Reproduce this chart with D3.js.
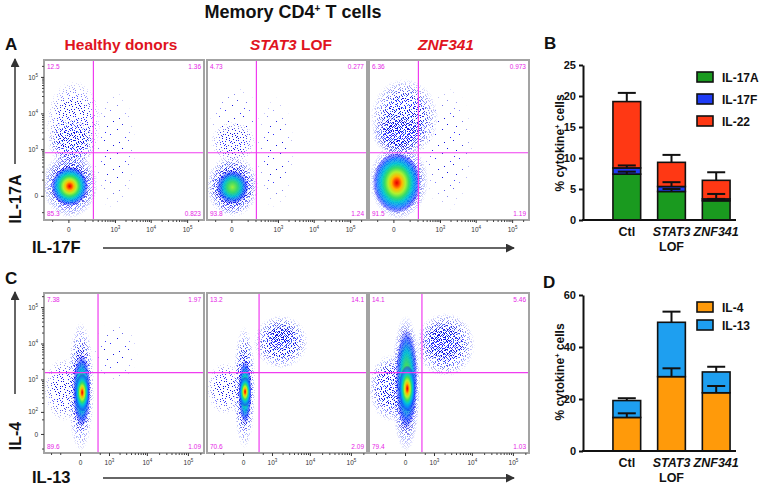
<!DOCTYPE html>
<html>
<head>
<meta charset="utf-8">
<script src="https://cdn.jsdelivr.net/npm/d3@7/dist/d3.min.js"></script>
<style>
  body { margin: 0; background: #fff; }
  svg { font-family: "Liberation Sans", Arial, sans-serif; display: block; }
</style>
</head>
<body>
<div id="fig"></div>
<script>
const W = 765, H = 487;
const S = 160; // flow plot box
const plotLeft = [44, 207, 369];
const rowTop = { A: 60, C: 293 };

// ---- flow panels
const groups = ["Healthy donors", "STAT3 LOF", "ZNF341"];
// quadrant % : UL, UR, LL, LR
const quadA = [[12.5, 1.36, 85.3, 0.823], [4.73, 0.277, 93.8, 1.24], [6.36, 0.973, 91.5, 1.19]];
const quadC = [[7.38, 1.97, 89.6, 1.09], [13.2, 14.1, 70.6, 2.09], [14.1, 5.46, 79.4, 1.03]];
// gate positions [x, y] in channel values
const gateA = [[215, 790], [215, 790], [215, 790]];
const gateC = [[430, 1560], [360, 1560], [390, 1560]];
const majorTicksA = [0, 1e3, 1e4, 1e5];
const majorTicksCy = [0, 1e2, 1e3, 1e4, 1e5];
const minorTicksA = [-100, 100, 200, 300, 400, 500, 600, 700, 800, 900, 2e3, 3e3, 4e3, 5e3, 6e3, 7e3, 8e3, 9e3, 2e4, 3e4, 4e4, 5e4, 6e4, 7e4, 8e4, 9e4, 2e5];
const minorTicksCx = [-1000, -500, 500, 2e3, 3e3, 4e3, 5e3, 6e3, 7e3, 8e3, 9e3, 2e4, 3e4, 4e4, 5e4, 6e4, 7e4, 8e4, 9e4, 2e5];
const minorTicksCy = [-50, 50, 200, 300, 400, 500, 600, 700, 800, 900, 2e3, 3e3, 4e3, 5e3, 6e3, 7e3, 8e3, 9e3, 2e4, 3e4, 4e4, 5e4, 6e4, 7e4, 8e4, 9e4, 2e5];
// cell populations: [xLo, xHi, yLo, yHi, level]  level 0-3 dot density, 4 green core, 5 red core
const popsA = [
  [[200, 4000, -100, 50000, 0], [-170, 380, 350, 80000, 1], [-150, 260, 300, 8000, 2],
   [-230, 300, -170, 900, 3], [-110, 140, -50, 300, 5]],
  [[200, 3000, -80, 30000, 0], [-170, 300, 400, 60000, 0], [-150, 200, 400, 6000, 1],
   [-220, 260, -160, 700, 2], [-170, 200, -120, 450, 3], [-90, 110, -40, 230, 4]],
  [[250, 9000, -100, 60000, 0], [-180, 900, 600, 90000, 2], [-160, 400, 700, 10000, 3],
   [-200, 450, -190, 1600, 3], [-150, 260, -110, 800, 5]]
];
const popsC = [
  [[-1600, 50, 40, 4000, 1], [250, 6000, 800, 40000, 0], [-250, 300, -70, 40000, 2],
   [-160, 220, 0, 10000, 3], [-120, 200, 20, 5000, 4], [-80, 170, 100, 1500, 5]],
  [[-1600, 0, 80, 3000, 1], [200, 9000, 2000, 60000, 2], [600, 5000, 6000, 35000, 3],
   [-180, 250, -50, 30000, 2], [-110, 180, 10, 8000, 3], [-70, 150, 30, 3500, 4], [-60, 140, 150, 1200, 5]],
  [[-1600, 100, 40, 5000, 2], [200, 12000, 1200, 70000, 2], [400, 6000, 3000, 40000, 3],
   [-280, 340, -70, 60000, 3], [-170, 250, 10, 25000, 4], [-100, 200, 100, 2500, 5]]
];

// ---- bar panels
const barCats = ["Ctl", "STAT3", "ZNF341"];
const il17a = [7.4, 4.6, 3.1], il17f = [1.0, 0.8, 0.3], il22 = [10.7, 3.9, 3.0];
const il17aErr = [0.4, 0.4, 0.3], il17fErr = [0.4, 0.7, 0.8], il22Err = [1.4, 1.2, 1.3];
const il4 = [12.9, 28.6, 22.4], il13 = [6.5, 20.9, 8.0];
const il4Err = [1.6, 3.2, 2.6], il13Err = [0.9, 4.1, 2.0];
const yTicksB = [0, 5, 10, 15, 20, 25], yTicksD = [0, 20, 40, 60];

const svg = d3.select("#fig").append("svg").attr("width", W).attr("height", H);
const defs = svg.append("defs");

// dot textures: a low-discrepancy scatter inside one tile (texture only)
function halton(i, b) { let f = 1, r = 0; while (i > 0) { f /= b; r += f * (i % b); i = Math.floor(i / b); } return r; }
const tile = 24;
const dotCounts = [9, 70, 150, 250];
dotCounts.forEach((n, lv) => {
  const p = defs.append("pattern").attr("id", "dots" + lv).attr("patternUnits", "userSpaceOnUse")
    .attr("width", tile).attr("height", tile);
  p.selectAll("rect").data(d3.range(1, n + 1)).join("rect")
    .attr("x", i => Math.floor(halton(i + lv * 7, 2) * tile)).attr("y", i => Math.floor(halton(i + lv * 7, 3) * tile))
    .attr("width", 1).attr("height", 1)
    .attr("fill", i => (lv >= 2 && i % 5 === 0) ? "#3a7dff" : (i % 3 === 0 ? "#2a2aff" : "#1010e0"));
});
const fadeGrad = defs.append("radialGradient").attr("id", "fadeGrad");
fadeGrad.append("stop").attr("offset", 0).attr("stop-color", "#fff");
fadeGrad.append("stop").attr("offset", 0.5).attr("stop-color", "#fff");
fadeGrad.append("stop").attr("offset", 1).attr("stop-color", "#000");
defs.append("mask").attr("id", "fade").attr("maskContentUnits", "objectBoundingBox")
  .append("rect").attr("width", 1).attr("height", 1).attr("fill", "url(#fadeGrad)");

const coreStops = {
  4: [[0, "#9af03a", 1], [0.3, "#3ad86a", 1], [0.55, "#00bcd8", 0.95], [0.8, "#1a48ff", 0.7], [1, "#0000ff", 0]],
  5: [[0, "#e00000", 1], [0.1, "#ff3c00", 1], [0.22, "#ffb800", 1], [0.36, "#b0f22e", 1], [0.5, "#34dc6a", 1],
      [0.64, "#00c6d4", 0.95], [0.8, "#0a7cff", 0.8], [0.9, "#1a30ff", 0.55], [1, "#0000ff", 0]]
};
Object.entries(coreStops).forEach(([k, stops]) => {
  const gr = defs.append("radialGradient").attr("id", "core" + k);
  stops.forEach(s => gr.append("stop").attr("offset", s[0]).attr("stop-color", s[1]).attr("stop-opacity", s[2]));
});

defs.append("clipPath").attr("id", "plotclip").append("rect").attr("width", S).attr("height", S);
defs.append("marker").attr("id", "arrow").attr("viewBox", "0 0 10 10").attr("refX", 9).attr("refY", 5)
  .attr("markerWidth", 9).attr("markerHeight", 9).attr("markerUnits", "userSpaceOnUse").attr("orient", "auto")
  .append("path").attr("d", "M0,0L10,5L0,10Z").attr("fill", "#333");

function powLabel(sel, sup) {
  sel.each(function (d) {
    const t = d3.select(this).text(null);
    if (d === 0) { t.text("0"); return; }
    t.append("tspan").text("10");
    t.append("tspan").attr("dy", "-3").attr("font-size", sup).text(Math.round(Math.log10(d)));
  });
}

function flowRow(top, xs, ys, pops, quads, gates, xMinor, yTicks, yMinor) {
  groups.forEach((grp, i) => {
    const g = svg.append("g").attr("transform", `translate(${plotLeft[i]},${top})`);
    const body = g.append("g").attr("clip-path", "url(#plotclip)");
    body.selectAll("ellipse").data(pops[i]).join("ellipse")
      .attr("cx", d => (xs(d[0]) + xs(d[1])) / 2)
      .attr("cy", d => (ys(d[2]) + ys(d[3])) / 2)
      .attr("rx", d => Math.abs(xs(d[1]) - xs(d[0])) / 2)
      .attr("ry", d => Math.abs(ys(d[3]) - ys(d[2])) / 2)
      .attr("fill", d => d[4] <= 3 ? `url(#dots${d[4]})` : `url(#core${d[4]})`)
      .attr("mask", d => d[4] <= 3 ? "url(#fade)" : null);
    // gates
    body.append("line").attr("x1", xs(gates[i][0])).attr("x2", xs(gates[i][0])).attr("y1", 0).attr("y2", S)
      .attr("stroke", "#f03cf0").attr("stroke-width", 1.2);
    body.append("line").attr("y1", ys(gates[i][1])).attr("y2", ys(gates[i][1])).attr("x1", 0).attr("x2", S)
      .attr("stroke", "#f03cf0").attr("stroke-width", 1.2);
    // quadrant numbers
    const qpos = [[3, 9, "start"], [S - 3, 9, "end"], [3, S - 4, "start"], [S - 3, S - 4, "end"]];
    g.selectAll("text.q").data(quads[i]).join("text").attr("class", "q")
      .attr("x", (d, k) => qpos[k][0]).attr("y", (d, k) => qpos[k][1]).attr("text-anchor", (d, k) => qpos[k][2])
      .attr("font-size", 6.5).attr("fill", "#e626e6").text(d => d);
    g.append("rect").attr("width", S).attr("height", S).attr("fill", "none")
      .attr("stroke", "#a3a3a3").attr("stroke-width", 2);
    // x axis
    const xa = g.append("g").attr("transform", `translate(0,${S})`)
      .call(d3.axisBottom(xs).tickValues(majorTicksA).tickSize(3).tickPadding(4));
    xa.call(a => a.select(".domain").remove());
    xa.selectAll("line").attr("stroke", "#333");
    xa.selectAll("text").attr("font-size", 6.5).attr("fill", "#333").call(powLabel, 4.5);
    g.append("g").attr("transform", `translate(0,${S})`)
      .call(d3.axisBottom(xs).tickValues(xMinor).tickSize(2).tickFormat(""))
      .call(a => a.select(".domain").remove()).selectAll("line").attr("stroke", "#444");
    if (i === 0) {
      const ya = g.append("g").call(d3.axisLeft(ys).tickValues(yTicks).tickSize(3).tickPadding(3));
      ya.call(a => a.select(".domain").remove());
      ya.selectAll("line").attr("stroke", "#333");
      ya.selectAll("text").attr("font-size", 6.5).attr("fill", "#333").call(powLabel, 4.5);
      g.append("g").call(d3.axisLeft(ys).tickValues(yMinor).tickSize(2).tickFormat(""))
        .call(a => a.select(".domain").remove()).selectAll("line").attr("stroke", "#444");
    }
  });
}

const xA = d3.scaleSymlog().constant(56).domain([-205, 290000]).range([0, S]);
const yA = d3.scaleSymlog().constant(56).domain([-200, 290000]).range([S, 0]);
const xC = d3.scaleSymlog().constant(250).domain([-1600, 245000]).range([0, S]);
const yC = d3.scaleSymlog().constant(33).domain([-77, 244000]).range([S, 0]);

flowRow(rowTop.A, xA, yA, popsA, quadA, gateA, minorTicksA, majorTicksA, minorTicksA);
flowRow(rowTop.C, xC, yC, popsC, quadC, gateC, minorTicksCx, majorTicksCy, minorTicksCy);

// titles and labels
const title = svg.append("text").attr("x", 293).attr("y", 18).attr("text-anchor", "middle")
  .attr("font-size", 18).attr("font-weight", "bold").attr("fill", "#111");
title.append("tspan").text("Memory CD4");
title.append("tspan").attr("dy", -6).attr("font-size", 10).text("+");
title.append("tspan").attr("dy", 6).text(" T cells");

groups.forEach((grp, i) => {
  const t = svg.append("text").attr("x", plotLeft[i] + S / 2 - (i === 0 ? 3 : i === 1 ? -4 : 3)).attr("y", 50)
    .attr("text-anchor", "middle").attr("font-size", 15.5).attr("font-weight", "bold").attr("fill", "#e0141e");
  if (i === 0) t.text(grp);
  else if (i === 1) { t.append("tspan").attr("font-style", "italic").text("STAT3"); t.append("tspan").text(" LOF"); }
  else t.append("tspan").attr("font-style", "italic").text(grp);
});

const bold = (x, y, txt, size, anchor) => svg.append("text").attr("x", x).attr("y", y).attr("font-size", size)
  .attr("font-weight", "bold").attr("text-anchor", anchor || "start").attr("fill", "#111").text(txt);
bold(5, 50, "A", 17); bold(5, 284, "C", 17); bold(544, 49, "B", 17); bold(543, 288, "D", 17);

// arrows & axis names
[[15, 164, 15, 59], [103, 248, 514, 248], [15, 394, 15, 292], [103, 478, 514, 478]].forEach(a => {
  svg.append("line").attr("x1", a[0]).attr("y1", a[1]).attr("x2", a[2]).attr("y2", a[3])
    .attr("stroke", "#333").attr("stroke-width", 1.5).attr("marker-end", "url(#arrow)");
});
svg.append("text").attr("transform", "translate(21,199) rotate(-90)").attr("text-anchor", "middle")
  .attr("font-size", 16).attr("font-weight", "bold").attr("fill", "#111").text("IL-17A");
svg.append("text").attr("transform", "translate(21,436) rotate(-90)").attr("text-anchor", "middle")
  .attr("font-size", 16).attr("font-weight", "bold").attr("fill", "#111").text("IL-4");
bold(32, 253, "IL-17F", 16.5);
bold(32, 483, "IL-13", 16.5);

// ---- stacked bar charts
function stackedBars(opts) {
  const rows = barCats.map((c, i) => { const r = { cat: c }; opts.series.forEach(s => r[s.name] = s.values[i]); return r; });
  const layers = d3.stack().keys(opts.series.map(s => s.name))(rows);
  const x = d3.scaleBand().domain(barCats).range([604, 739]).paddingInner(0.38).paddingOuter(0.2);
  const y = d3.scaleLinear().domain([0, opts.max]).range([opts.bottom, opts.top]);
  const g = svg.append("g");
  layers.forEach((layer, li) => {
    g.selectAll(null).data(layer).join("rect")
      .attr("x", d => x(d.data.cat)).attr("width", x.bandwidth())
      .attr("y", d => y(d[1])).attr("height", d => y(d[0]) - y(d[1]))
      .attr("fill", opts.series[li].color).attr("stroke", "#111").attr("stroke-width", 1.6);
  });
  layers.forEach((layer, li) => {
    const errs = opts.series[li].errs;
    layer.forEach((d, i) => {
      const cx = x(d.data.cat) + x.bandwidth() / 2;
      g.append("line").attr("x1", cx).attr("x2", cx).attr("y1", y(d[1])).attr("y2", y(d[1] + errs[i]))
        .attr("stroke", "#111").attr("stroke-width", 2);
      g.append("line").attr("x1", cx - 9).attr("x2", cx + 9).attr("y1", y(d[1] + errs[i])).attr("y2", y(d[1] + errs[i]))
        .attr("stroke", "#111").attr("stroke-width", 2);
    });
  });
  const ya = g.append("g").attr("transform", "translate(583,0)")
    .call(d3.axisLeft(y).tickValues(opts.ticks).tickSize(4).tickSizeOuter(0).tickPadding(3));
  ya.select(".domain").attr("stroke", "#111").attr("stroke-width", 2);
  ya.selectAll("line").attr("stroke", "#111").attr("stroke-width", 2);
  ya.selectAll("text").attr("font-size", 11).attr("font-weight", "bold").attr("fill", "#111")
    .attr("font-family", "'Liberation Sans', Arial, sans-serif");
  g.append("line").attr("x1", 582).attr("x2", 736).attr("y1", opts.bottom).attr("y2", opts.bottom)
    .attr("stroke", "#111").attr("stroke-width", 2);
  barCats.forEach(c => {
    const t = g.append("text").attr("x", x(c) + x.bandwidth() / 2).attr("y", opts.bottom + 16)
      .attr("text-anchor", "middle").attr("font-size", 12.5).attr("font-weight", "bold").attr("fill", "#111");
    if (c === "Ctl") t.text(c);
    else t.append("tspan").attr("font-style", "italic").text(c);
    if (c === "STAT3") t.append("tspan").attr("x", x(c) + x.bandwidth() / 2).attr("dy", 15).text("LOF");
  });
  const yl = g.append("text").attr("transform", `translate(564,${opts.labelY}) rotate(-90)`).attr("text-anchor", "middle")
    .attr("font-size", 12).attr("font-weight", "bold").attr("fill", "#111");
  yl.append("tspan").text("% cytokine");
  yl.append("tspan").attr("dy", -4).attr("font-size", 7.5).text("+");
  yl.append("tspan").attr("dy", 4).text(" cells");
  opts.series.forEach((s, i) => {
    const ly = opts.legendY + i * opts.legendStep;
    g.append("rect").attr("x", 697).attr("y", ly - 5).attr("width", 16).attr("height", 10)
      .attr("fill", s.color).attr("stroke", "#111").attr("stroke-width", 1.6);
    g.append("text").attr("x", 722).attr("y", ly + 4.5).attr("font-size", 12).attr("font-weight", "bold")
      .attr("fill", "#111").text(s.name);
  });
}

stackedBars({
  top: 65, bottom: 220, max: 25, ticks: yTicksB, labelY: 143, legendY: 77, legendStep: 22,
  series: [
    { name: "IL-17A", values: il17a, errs: il17aErr, color: "#1a9a1f" },
    { name: "IL-17F", values: il17f, errs: il17fErr, color: "#1f3cf5" },
    { name: "IL-22", values: il22, errs: il22Err, color: "#ff3814" }
  ]
});
stackedBars({
  top: 295, bottom: 451, max: 60, ticks: yTicksD, labelY: 372, legendY: 307, legendStep: 18,
  series: [
    { name: "IL-4", values: il4, errs: il4Err, color: "#ff9a0a" },
    { name: "IL-13", values: il13, errs: il13Err, color: "#1e9ff0" }
  ]
});
</script>
</body>
</html>
